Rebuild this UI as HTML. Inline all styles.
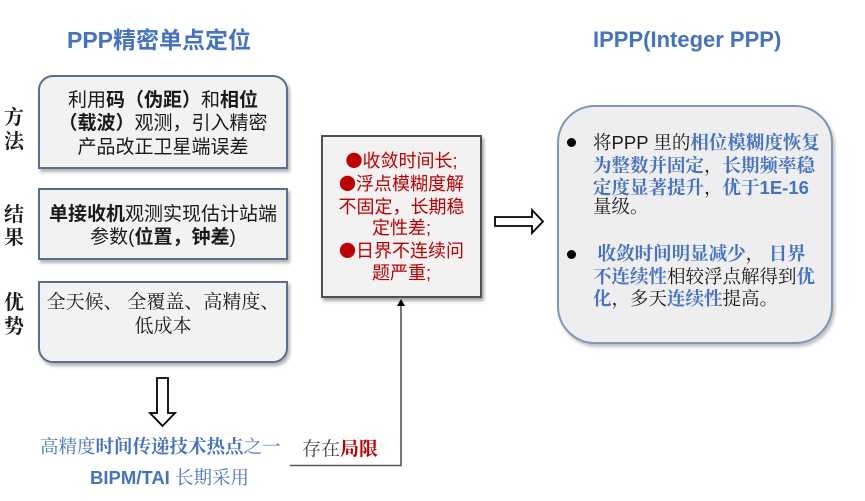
<!DOCTYPE html>
<html><head><meta charset="utf-8">
<style>
html,body{margin:0;padding:0;background:#fff;}
body{width:865px;height:501px;position:relative;overflow:hidden;font-family:"Liberation Sans","Noto Sans CJK SC",sans-serif;color:#1a1a1a;}
.t{position:absolute;white-space:nowrap;}
.c{text-align:center;}
.b{font-weight:bold;}
.blue{color:#4472C4;}
.red{color:#C00000;}
.serif{font-family:"Liberation Serif","Noto Serif CJK SC",serif;}
.box{position:absolute;box-sizing:border-box;background:#f2f2f2;}
.dot{position:absolute;width:9px;height:9px;border-radius:50%;background:#000;}
.rb{font-family:"Noto Sans CJK SC",sans-serif;font-size:17px;}
</style></head><body>

<!-- titles -->
<div class="t b blue" style="left:67px;top:26px;font-size:23px;line-height:28px;">PPP精密单点定位</div>
<div class="t b blue" style="left:593px;top:26px;font-size:22px;line-height:28px;">IPPP(Integer PPP)</div>

<!-- left boxes -->
<div class="box" style="left:38px;top:75px;width:250px;height:94px;border:2px solid #5b6e8f;border-radius:15px 15px 0 0;box-shadow:2px 3px 3px rgba(0,0,0,0.3);"></div>
<div class="box" style="left:38px;top:188px;width:250px;height:72px;border:2px solid #5b6e8f;box-shadow:2px 3px 3px rgba(0,0,0,0.3);"></div>
<div class="box" style="left:38px;top:281px;width:250px;height:82px;border:2px solid #5b6e8f;border-radius:0 0 15px 15px;box-shadow:2px 3px 3px rgba(0,0,0,0.3);"></div>

<!-- side labels -->
<div class="t serif b" style="left:4px;top:106px;font-size:20px;line-height:24px;">方</div>
<div class="t serif b" style="left:4px;top:130px;font-size:20px;line-height:24px;">法</div>
<div class="t serif b" style="left:4px;top:203px;font-size:20px;line-height:24px;">结</div>
<div class="t serif b" style="left:4px;top:226px;font-size:20px;line-height:24px;">果</div>
<div class="t serif b" style="left:4px;top:291px;font-size:20px;line-height:24px;">优</div>
<div class="t serif b" style="left:4px;top:315px;font-size:20px;line-height:24px;">势</div>

<!-- box1 text -->
<div class="t c" style="left:38px;width:250px;top:89px;font-size:19px;line-height:24px;">利用<b>码（伪距）</b>和<b>相位</b></div>
<div class="t c" style="left:38px;width:250px;top:112px;font-size:19px;line-height:24px;"><b>（载波）</b>观测，引入精密</div>
<div class="t c" style="left:38px;width:250px;top:136px;font-size:19px;line-height:24px;">产品改正卫星端误差</div>

<!-- box2 text -->
<div class="t c" style="left:38px;width:250px;top:203px;font-size:19px;line-height:24px;"><b>单接收机</b>观测实现估计站端</div>
<div class="t c" style="left:38px;width:250px;top:226px;font-size:19px;line-height:24px;">参数(<b>位置，钟差</b>)</div>

<!-- box3 text -->
<div class="t c serif" style="left:38px;width:250px;top:291px;font-size:19px;line-height:24px;">全天候、 全覆盖、高精度、</div>
<div class="t c serif" style="left:38px;width:250px;top:315px;font-size:19px;line-height:24px;">低成本</div>

<!-- middle box -->
<div class="box" style="left:321px;top:135px;width:161px;height:163px;border:2.5px solid #505050;box-shadow:2px 3px 3px rgba(0,0,0,0.35);"></div>
<div class="t c red" style="left:321px;width:161px;top:149px;font-size:18px;line-height:22px;"><span class="rb">●</span>收敛时间长;</div>
<div class="t c red" style="left:321px;width:161px;top:172px;font-size:18px;line-height:22px;"><span class="rb">●</span>浮点模糊度解</div>
<div class="t c red" style="left:321px;width:161px;top:196px;font-size:18px;line-height:22px;">不固定，长期稳</div>
<div class="t c red" style="left:321px;width:161px;top:217px;font-size:18px;line-height:22px;">定性差;</div>
<div class="t c red" style="left:321px;width:161px;top:239px;font-size:18px;line-height:22px;"><span class="rb">●</span>日界不连续问</div>
<div class="t c red" style="left:321px;width:161px;top:262px;font-size:18px;line-height:22px;">题严重;</div>

<!-- right box -->
<div class="box" style="left:557px;top:105px;width:276px;height:239px;border:2px solid #7f95c0;border-radius:38px;background:#eeeeee;box-shadow:2px 3px 3px rgba(0,0,0,0.25);"></div>
<div class="dot" style="left:567px;top:138px;"></div>
<div class="dot" style="left:567px;top:250px;"></div>
<div class="t serif" style="left:593px;top:131px;font-size:18.5px;line-height:24px;">将<span style="font-family:'Liberation Sans',sans-serif">PPP </span>里的<b class="blue">相位模糊度恢复</b></div>
<div class="t serif" style="left:593px;top:155px;font-size:18.5px;line-height:24px;"><b class="blue">为整数并固定</b>，<b class="blue">长期频率稳</b></div>
<div class="t serif" style="left:593px;top:176px;font-size:18.5px;line-height:24px;"><b class="blue">定度显著提升</b>，<b class="blue">优于<span style="font-family:'Liberation Sans',sans-serif">1E-16</span></b></div>
<div class="t serif" style="left:593px;top:196px;font-size:18.5px;line-height:24px;">量级。</div>
<div class="t serif" style="left:593px;top:243px;font-size:18.5px;line-height:24px;"><b class="blue">&nbsp;收敛时间明显减少</b>，<b class="blue">&nbsp;日界</b></div>
<div class="t serif" style="left:593px;top:266px;font-size:18.5px;line-height:24px;"><b class="blue">不连续性</b>相较浮点解得到<b class="blue">优</b></div>
<div class="t serif" style="left:593px;top:288px;font-size:18.5px;line-height:24px;"><b class="blue">化</b>，多天<b class="blue">连续性</b>提高。</div>

<!-- bottom text -->
<div class="t blue serif" style="left:40px;top:436px;font-size:18.5px;line-height:24px;">高精度<b>时间传递技术热点</b>之一</div>
<div class="t serif" style="left:302px;top:438px;font-size:19px;line-height:24px;color:#404040;">存在<b class="red">局限</b></div>
<div class="t blue" style="left:90px;top:466px;font-size:18.5px;line-height:24px;"><b>BIPM/TAI</b> <span class="serif">长期采用</span></div>

<!-- arrows and connector -->
<svg width="865" height="501" style="position:absolute;left:0;top:0;" xmlns="http://www.w3.org/2000/svg">
  <polygon points="157,378 168,378 168,413 175,413 162.5,426 150,413 157,413" fill="#fff" stroke="#000" stroke-width="1.8" stroke-linejoin="miter"/>
  <polygon points="495,217 532,217 532,210 543,221.5 532,233 532,226 495,226" fill="#fff" stroke="#000" stroke-width="1.8"/>
  <polyline points="290,465.5 401,465.5 401,305" fill="none" stroke="#555" stroke-width="1.6"/>
  <polygon points="397,306 405,306 401,299" fill="#000"/>
</svg>

</body></html>
